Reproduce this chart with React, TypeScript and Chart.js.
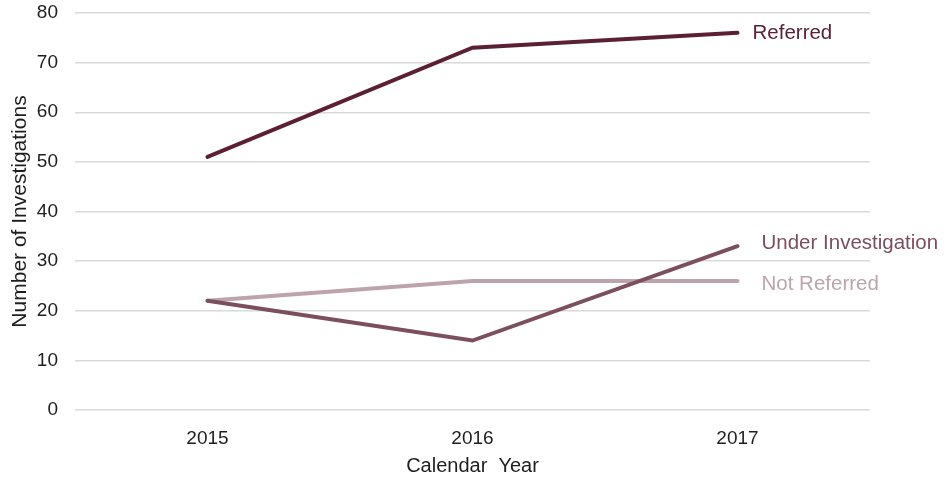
import React, { useEffect, useRef } from "react";
import { Chart, registerables } from "chart.js";

Chart.register(...registerables);

const years = ["2015", "2016", "2017"];
const referred = [51, 73, 76];
const underInvestigation = [22, 14, 33];
const notReferred = [22, 26, 26];

const seriesNames = ["Referred", "Under Investigation", "Not Referred"];
const seriesColors = ["#5b2036", "#7b4f5e", "#bca4aa"];

const FONT = "'Liberation Sans', Arial, sans-serif";

// Writes each series name just to the right of its final point
const endLabels = {
  id: "endLabels",
  afterDatasetsDraw(chart: any) {
    const ctx = chart.ctx;
    const shifts = [
      { dx: 15, dy: 0 },
      { dx: 24, dy: -3 },
      { dx: 24, dy: 3 },
    ];
    ctx.save();
    ctx.font = `20.5px ${FONT}`;
    ctx.textBaseline = "middle";
    ctx.textAlign = "left";
    chart.data.datasets.forEach((ds: any, i: number) => {
      const meta = chart.getDatasetMeta(i);
      const pt = meta.data[meta.data.length - 1];
      if (!pt) return;
      ctx.fillStyle = ds.borderColor;
      ctx.fillText(ds.label, pt.x + shifts[i].dx, pt.y + shifts[i].dy);
    });
    ctx.restore();
  },
};

export default function App() {
  const canvasRef = useRef<HTMLCanvasElement | null>(null);

  useEffect(() => {
    if (!canvasRef.current) return;
    const values = [referred, underInvestigation, notReferred];
    const chart = new Chart(canvasRef.current, {
      type: "line",
      data: {
        labels: years,
        datasets: values.map((v, i) => ({
          label: seriesNames[i],
          data: v,
          borderColor: seriesColors[i],
          backgroundColor: seriesColors[i],
          borderWidth: 4,
          borderCapStyle: "round",
          borderJoinStyle: "miter",
          pointRadius: 0,
          pointHoverRadius: 0,
          tension: 0,
          fill: false,
        })),
      },
      options: {
        animation: false,
        responsive: false,
        maintainAspectRatio: false,
        layout: { padding: { top: 13, right: 78, bottom: 0, left: 0 } },
        plugins: {
          legend: { display: false },
          tooltip: { enabled: false },
        },
        scales: {
          x: {
            offset: true,
            grid: { display: false, drawTicks: false },
            border: { display: false },
            ticks: {
              color: "#1e1e1e",
              padding: 17,
              font: { family: FONT, size: 19 },
            },
            title: {
              display: true,
              text: "Calendar  Year",
              color: "#1e1e1e",
              padding: 0,
              font: { family: FONT, size: 20 },
            },
            afterFit: (scale: any) => {
              scale.height = 68;
            },
          },
          y: {
            min: 0,
            max: 80,
            ticks: {
              stepSize: 10,
              color: "#1e1e1e",
              padding: 17,
              font: { family: FONT, size: 19 },
            },
            grid: { color: "#d9d9d9", lineWidth: 1.5, drawTicks: false },
            border: { display: false },
            title: {
              display: true,
              text: "Number of Investigations",
              color: "#1e1e1e",
              padding: { top: 8, bottom: 0 },
              font: { family: FONT, size: 21 },
            },
            afterFit: (scale: any) => {
              // fixed axis width; plot edges come from the layout padding
              scale.width = 75;
              scale.paddingTop = 0;
              scale.paddingBottom = 0;
            },
          },
        },
      },
      plugins: [endLabels],
    });
    return () => chart.destroy();
  }, []);

  return (
    <div style={{ position: "absolute", left: 0, top: 0, width: 948, height: 478, background: "#fff" }}>
      <canvas ref={canvasRef} width={948} height={478} style={{ display: "block" }} />
    </div>
  );
}
